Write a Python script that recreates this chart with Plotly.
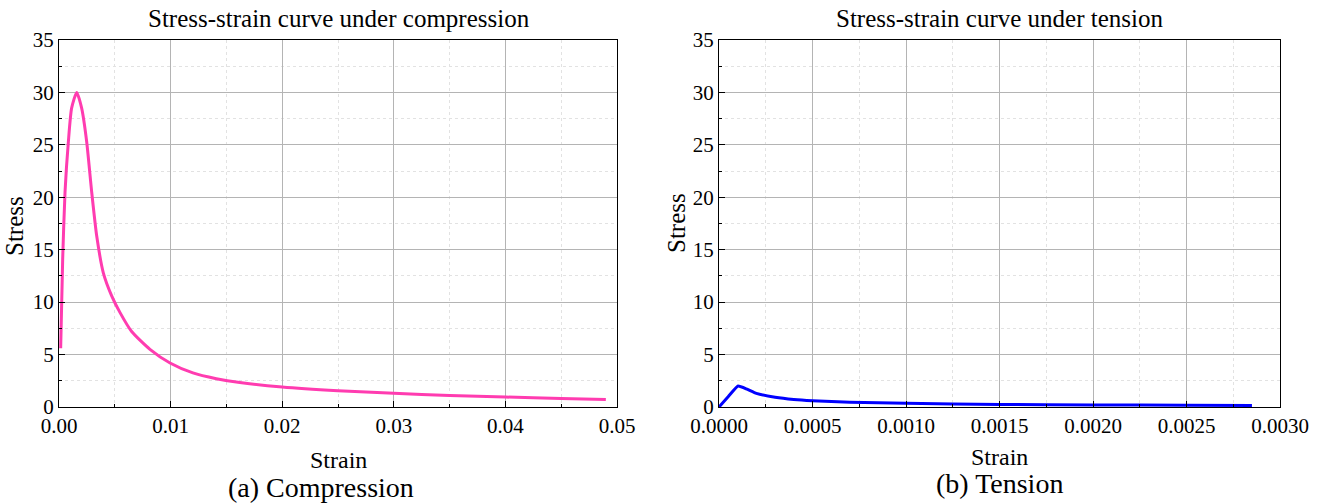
import plotly.graph_objects as go

# Compression curve
comp_strain = [0.00015, 0.00033, 0.00054, 0.00084, 0.00113, 0.00159, 0.00203, 0.00248,
               0.00293, 0.00338, 0.00397, 0.00472, 0.00547, 0.00651, 0.00815, 0.00995,
               0.0120, 0.0141, 0.0162, 0.020, 0.025, 0.030, 0.035, 0.040, 0.045, 0.049]
comp_stress = [5.6, 14.1, 20.5, 25.3, 28.5, 30.0, 28.5, 25.3,
               20.5, 16.3, 12.8, 10.6, 9.0, 7.2, 5.5, 4.2,
               3.25, 2.7, 2.33, 1.9, 1.55, 1.3, 1.1, 0.95, 0.82, 0.72]

# Tension curve
ten_strain = [0.0, 0.00005, 0.000102, 0.00015, 0.0002, 0.0003, 0.0004, 0.0005, 0.0007,
              0.001, 0.0015, 0.002, 0.0025, 0.00285]
ten_stress = [0.0, 1.0, 2.0, 1.7, 1.3, 0.93, 0.72, 0.6, 0.45,
              0.35, 0.25, 0.2, 0.17, 0.15]

y_ticks = [0, 5, 10, 15, 20, 25, 30, 35]
FONT = "Liberation Serif"

fig = go.Figure()
fig.add_trace(go.Scatter(x=comp_strain, y=comp_stress, mode="lines",
                         line=dict(color="#ff3cb0", width=3, shape="spline", smoothing=0.6),
                         xaxis="x", yaxis="y", showlegend=False))
fig.add_trace(go.Scatter(x=ten_strain, y=ten_stress, mode="lines",
                         line=dict(color="#0000ff", width=3, shape="spline", smoothing=0.4),
                         xaxis="x2", yaxis="y2", showlegend=False))

W, H = 1322, 503
L1, R1 = 59, 617
L2, R2 = 719, 1280
T, B = 40, 407

def px(x):
    return x / W

def py(y):
    return 1 - y / H

common = dict(showline=True, linecolor="black", linewidth=1, mirror=True,
              ticks="inside", ticklen=6, tickcolor="black", automargin=False,
              showgrid=True, gridcolor="#b4b4b4", gridwidth=1, zeroline=False,
              tickfont=dict(family=FONT, size=21, color="black"))

def minor(d):
    return dict(dtick=d, showgrid=True, gridcolor="#e2e2e2", griddash="dot",
                ticks="inside", ticklen=3, tickcolor="black")

fig.update_layout(
    width=W, height=H,
    margin=dict(l=0, r=0, t=0, b=0, autoexpand=False),
    paper_bgcolor="white", plot_bgcolor="white",
    font=dict(family=FONT, color="black"),
    xaxis=dict(domain=[px(L1), px(R1)], range=[0, 0.05], dtick=0.01, tickformat=".2f",
               anchor="y", minor=minor(0.005), **common),
    yaxis=dict(domain=[py(B), py(T)], range=[0, 35], tickvals=y_ticks, anchor="x",
               minor=minor(2.5), **common),
    xaxis2=dict(domain=[px(L2), px(R2)], range=[0, 0.003], dtick=0.0005, tickformat=".4f",
                anchor="y2", minor=minor(0.00025), **common),
    yaxis2=dict(domain=[py(B), py(T)], range=[0, 35], tickvals=y_ticks, anchor="x2",
                minor=minor(2.5), **common),
)

def ann(text, x, y, size, angle=0):
    fig.add_annotation(text=text, x=px(x), y=py(y), xref="paper", yref="paper",
                       showarrow=False, textangle=angle, xanchor="center", yanchor="middle",
                       font=dict(family=FONT, size=size, color="black"))

ann("Stress-strain curve under compression", 339, 18, 25)
ann("Stress-strain curve under tension", 1000, 18, 25)
ann("Strain", 338, 460, 24)
ann("Strain", 1000, 457, 24)
ann("(a) Compression", 321, 487, 28)
ann("(b) Tension", 1000, 483, 28)
ann("Stress", 15, 226, 25, -90)
ann("Stress", 676, 223, 25, -90)

fig.write_html("out.html")
